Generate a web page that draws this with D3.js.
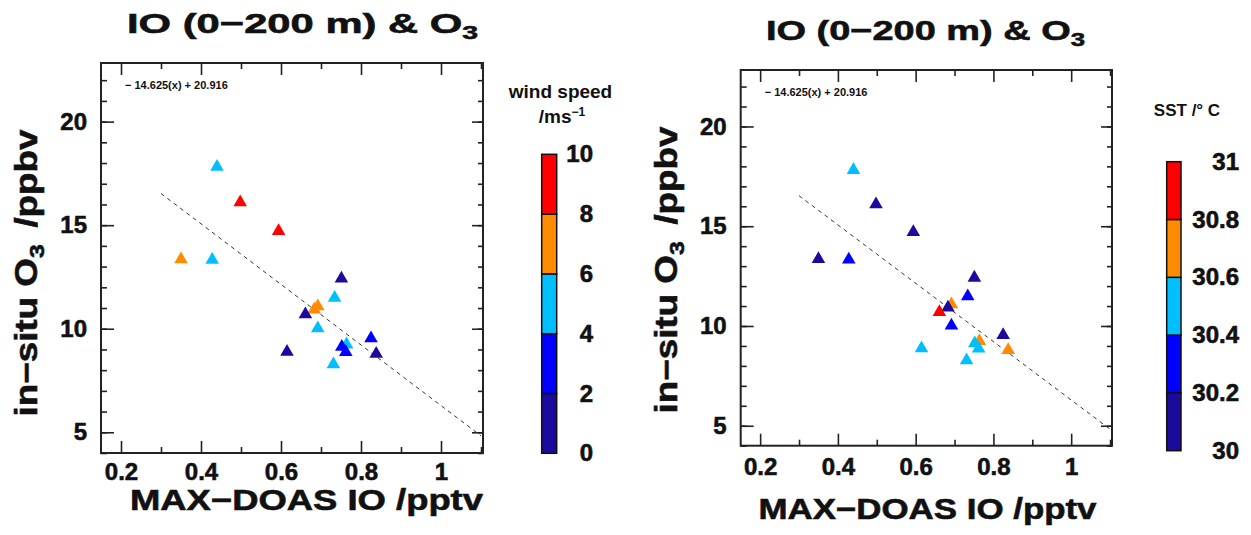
<!DOCTYPE html>
<html>
<head>
<meta charset="utf-8">
<script src="https://cdn.jsdelivr.net/npm/d3@7"></script>
<style>
  body { margin: 0; background: white; }
  text { font-family: Arial, "Liberation Sans", sans-serif; font-weight: bold; fill: #111; }
  .tick text, .heavy { stroke: #111; stroke-width: 0.6px; }
</style>
</head>
<body>
<div id="chart"></div>
<script>
const width = 1251
const height = 535

// MAX-DOAS IO (pptv) vs in-situ O3 (ppbv), one entry per day
const ioValues = [0.440, 0.498, 0.594, 0.350, 0.428, 0.751, 0.734, 0.692, 0.683, 0.661, 0.692, 0.615, 0.825, 0.838, 0.764, 0.752, 0.762, 0.731];
const o3Values = [17.82, 16.10, 14.71, 13.35, 13.33, 12.42, 11.49, 11.08, 10.92, 10.70, 10.02, 8.88, 9.54, 8.79, 9.24, 9.13, 8.87, 8.28];
const windSpeed = [5.0, 9.1, 8.6, 6.8, 4.6, 1.2, 5.3, 6.5, 7.1, 1.6, 4.4, 1.4, 3.1, 1.0, 5.6, 2.6, 3.4, 4.8];
const sst = [30.5, 30.1, 30.1, 30.1, 30.3, 30.1, 30.3, 30.7, 30.1, 30.9, 30.3, 30.5, 30.1, 30.7, 30.7, 30.5, 30.5, 30.5];

const windEdges = [0, 2, 4, 6, 8, 10];
const sstEdges = [30, 30.2, 30.4, 30.6, 30.8, 31];
const classColors = ["#1c0a9c", "#0000ff", "#00bfff", "#ff8c00", "#ff0000"];

const fitSlope = -14.625;
const fitIntercept = 20.916;
const fitRange = [0.3, 1.1];

const xTicks = [0.2, 0.4, 0.6, 0.8, 1];
const xMinor = [0.3, 0.5, 0.7, 0.9, 1.1];
const yTicks = [5, 10, 15, 20];
const yMinor = d3.range(4, 23);

const svg = d3.select("#chart")
  .append("svg")
  .attr("width", width)
  .attr("height", height)

function drawPanel(p) {
  const x = d3.scaleLinear().domain([0.15, 1.105]).range([p.left, p.right]);
  const y = d3.scaleLinear().domain([4, 22.83]).range([p.bottom, p.top]);
  const color = d3.scaleThreshold().domain(p.edges.slice(1, -1)).range(classColors);

  const g = svg.append("g");

  // axes, ticks pointing inward on all four sides
  const axes = [
    [d3.axisBottom(x).tickValues(xTicks).tickFormat(d3.format("")).tickSize(-12).tickPadding(p.xpad), `translate(0,${p.bottom})`],
    [d3.axisBottom(x).tickValues(xMinor).tickFormat("").tickSize(-6), `translate(0,${p.bottom})`],
    [d3.axisTop(x).tickValues(xTicks).tickFormat("").tickSize(-12), `translate(0,${p.top})`],
    [d3.axisTop(x).tickValues(xMinor).tickFormat("").tickSize(-6), `translate(0,${p.top})`],
    [d3.axisLeft(y).tickValues(yTicks).tickSize(-13).tickPadding(14), `translate(${p.left},0)`],
    [d3.axisLeft(y).tickValues(yMinor).tickFormat("").tickSize(-6), `translate(${p.left},0)`],
    [d3.axisRight(y).tickValues(yTicks).tickFormat("").tickSize(-11), `translate(${p.right},0)`],
    [d3.axisRight(y).tickValues(yMinor).tickFormat("").tickSize(-5), `translate(${p.right},0)`]
  ];
  axes.forEach(([ax, tr]) => {
    const a = g.append("g").attr("transform", tr).call(ax)
      .attr("font-family", null);
    a.select(".domain").remove();
    a.selectAll("line").attr("stroke", "#222").attr("stroke-width", 1.6);
    a.selectAll("text").attr("font-size", 24).attr("fill", "#111");
  });

  g.append("rect")
    .attr("x", p.left)
    .attr("y", p.top)
    .attr("width", p.right - p.left)
    .attr("height", p.bottom - p.top)
    .attr("fill", "none")
    .attr("stroke", "#222")
    .attr("stroke-width", 2)

  // linear fit
  g.append("line")
    .attr("x1", x(fitRange[0]))
    .attr("y1", y(fitSlope * fitRange[0] + fitIntercept))
    .attr("x2", x(fitRange[1]))
    .attr("y2", y(fitSlope * fitRange[1] + fitIntercept))
    .attr("stroke", "#333")
    .attr("stroke-width", 1)
    .attr("stroke-dasharray", "4,4")

  g.append("text")
    .attr("x", p.left + 24)
    .attr("y", p.top + 26)
    .attr("font-size", 11)
    .text(`− ${Math.abs(fitSlope).toFixed(3)}(x) + ${fitIntercept.toFixed(3)}`)

  g.selectAll("path.pt")
    .data(ioValues.map((v, i) => ({ io: v, o3: o3Values[i], c: p.values[i] })))
    .enter()
    .append("path")
    .attr("class", "pt")
    .attr("d", d3.symbol().type(d3.symbolTriangle).size(80))
    .attr("transform", d => `translate(${x(d.io)},${y(d.o3)})`)
    .attr("fill", d => color(d.c))

  // titles
  const title = g.append("text")
    .attr("class", "heavy")
    .attr("x", (p.titleX[0] + p.titleX[1]) / 2)
    .attr("y", p.titleY)
    .attr("font-size", 28)
    .attr("text-anchor", "middle")
    .attr("textLength", p.titleX[1] - p.titleX[0])
    .attr("lengthAdjust", "spacingAndGlyphs")
  title.append("tspan").text("IO (0−200 m) & O")
  title.append("tspan").attr("dy", 6).attr("font-size", 19).text("3")

  g.append("text")
    .attr("class", "heavy")
    .attr("x", p.xlab[0])
    .attr("y", p.xlab[1])
    .attr("font-size", 29)
    .attr("text-anchor", "middle")
    .attr("textLength", p.xlab[2])
    .attr("lengthAdjust", "spacingAndGlyphs")
    .text("MAX−DOAS IO /pptv")

  const ylab = g.append("text")
    .attr("class", "heavy")
    .attr("transform", `translate(${p.ylab[0]},${p.ylab[1]}) rotate(-90)`)
    .attr("font-size", 31)
    .attr("text-anchor", "middle")
    .attr("textLength", p.ylab[2])
    .attr("lengthAdjust", "spacingAndGlyphs")
  ylab.append("tspan").text("in−situ O")
  ylab.append("tspan").attr("dy", 7).attr("font-size", 21).text("3")
  ylab.append("tspan").attr("dy", -7).attr("dx", 14).text("/ppbv")

  // colour bar
  const cb = d3.scaleLinear().domain([p.edges[0], p.edges[p.edges.length - 1]]).range([p.cb.bottom, p.cb.top]);
  g.selectAll("rect.cb")
    .data(d3.pairs(p.edges))
    .enter()
    .append("rect")
    .attr("class", "cb")
    .attr("x", p.cb.x)
    .attr("y", d => cb(d[1]))
    .attr("width", p.cb.w)
    .attr("height", d => cb(d[0]) - cb(d[1]))
    .attr("fill", (d, i) => classColors[i])
    .attr("stroke", "#111")
    .attr("stroke-width", 1.5)

  g.selectAll("text.cbl")
    .data(p.edges)
    .enter()
    .append("text")
    .attr("class", "cbl heavy")
    .attr("x", p.cb.labelX)
    .attr("y", d => cb(d) + 8)
    .attr("font-size", 24)
    .attr("text-anchor", "end")
    .text(d => d3.format("")(d))
}

drawPanel({
  left: 101, right: 483, top: 63, bottom: 453,
  values: windSpeed, edges: windEdges, xpad: 10,
  titleX: [127, 478], titleY: 33,
  xlab: [306.5, 510, 353],
  ylab: [37, 273, 287],
  cb: { x: 541.7, w: 15, top: 154.3, bottom: 453.3, labelX: 593 }
})

drawPanel({
  left: 740.7, right: 1112, top: 70, bottom: 445.7,
  values: sst, edges: sstEdges, xpad: 12,
  titleX: [766, 1085], titleY: 40,
  xlab: [927.5, 519, 338],
  ylab: [677, 270, 287],
  cb: { x: 1166.7, w: 14.3, top: 161.7, bottom: 450.7, labelX: 1239 }
})

// colour bar titles
svg.append("text")
  .attr("x", 560.5)
  .attr("y", 98)
  .attr("font-size", 19)
  .attr("text-anchor", "middle")
  .text("wind speed")
const ms = svg.append("text")
  .attr("x", 562)
  .attr("y", 123)
  .attr("font-size", 19)
  .attr("text-anchor", "middle")
ms.append("tspan").text("/ms")
ms.append("tspan").attr("dy", -7).attr("font-size", 12).text("−1")

svg.append("text")
  .attr("x", 1187)
  .attr("y", 116)
  .attr("font-size", 17)
  .attr("text-anchor", "middle")
  .text("SST /° C")
</script>
</body>
</html>
